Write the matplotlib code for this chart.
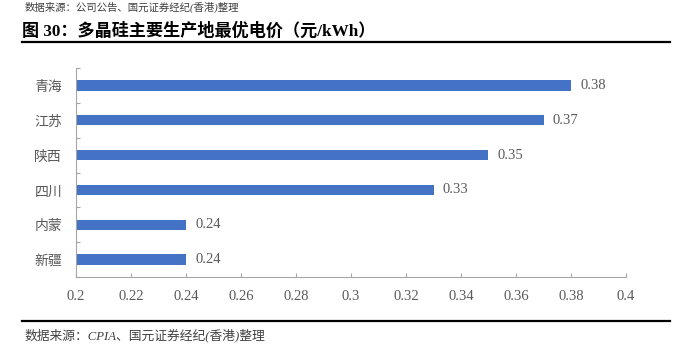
import matplotlib.pyplot as plt
from matplotlib.lines import Line2D
import numpy as np

# data (top to bottom as in the chart)
regions = ['青海', '江苏', '陕西', '四川', '内蒙', '新疆']
prices = [0.38, 0.37, 0.35, 0.33, 0.24, 0.24]
xticks = [0.2, 0.22, 0.24, 0.26, 0.28, 0.3, 0.32, 0.34, 0.36, 0.38, 0.4]
xtick_labels = ['0.2', '0.22', '0.24', '0.26', '0.28', '0.3', '0.32', '0.34', '0.36', '0.38', '0.4']

serif = ['Liberation Serif', 'Noto Sans CJK SC']
grey = '#595959'
axis_grey = '#a6a6a6'

fig = plt.figure(figsize=(6.86, 3.54), dpi=100)
ax = fig.add_axes([76 / 686, 1 - 277 / 354, 550 / 686, 209 / 354])

y = np.arange(len(regions))
ax.barh(y, prices, height=0.3, color='#4472C4', left=0, zorder=2)

for yi, v in zip(y, prices):
    ax.text(v + 0.0033, yi, f'{v:.2f}', va='center', ha='left',
            fontsize=10.5, color=grey, family=serif)

ax.set_xlim(0.2, 0.4)
ax.set_ylim(len(regions) - 0.5, -0.5)

ax.set_xticks(xticks)
ax.set_xticklabels(xtick_labels, family=serif, fontsize=10.5, color=grey)
ax.tick_params(axis='x', direction='in', length=3, width=0.8, color=axis_grey, pad=9)

ax.set_yticks(y)
ax.set_yticklabels(regions, family=['Noto Sans CJK SC'], fontsize=10, color=grey)
ax.tick_params(axis='y', which='major', length=0, pad=10)
ax.set_yticks(np.arange(-0.5, len(regions), 1.0), minor=True)
ax.tick_params(axis='y', which='minor', direction='in', length=3, width=0.8, color=axis_grey)

for s in ['top', 'right']:
    ax.spines[s].set_visible(False)
for s in ['left', 'bottom']:
    ax.spines[s].set_color(axis_grey)
    ax.spines[s].set_linewidth(0.8)

# header / footer
fig.text(25 / 686, 1 - 7 / 354, '数据来源：公司公告、国元证券经纪(香港)整理', family=serif,
         fontsize=7.5, color='#404040', va='center', ha='left', style='italic')
fig.text(22 / 686, 1 - 31 / 354, '图 30：多晶硅主要生产地最优电价（元/kWh）', family=serif,
         fontsize=12.3, fontweight='bold', color='black', va='center', ha='left')
fig.add_artist(Line2D([22 / 686, 670 / 686], [1 - 42 / 354, 1 - 42 / 354],
                      color='black', linewidth=1.6, transform=fig.transFigure))
fig.add_artist(Line2D([22 / 686, 670 / 686], [1 - 321 / 354, 1 - 321 / 354],
                      color='black', linewidth=1.6, transform=fig.transFigure))
fig.text(25 / 686, 1 - 335 / 354, '数据来源：CPIA、国元证券经纪(香港)整理', family=serif,
         fontsize=9.2, color='#404040', va='center', ha='left', style='italic')

fig.savefig('out.png', dpi=100)
